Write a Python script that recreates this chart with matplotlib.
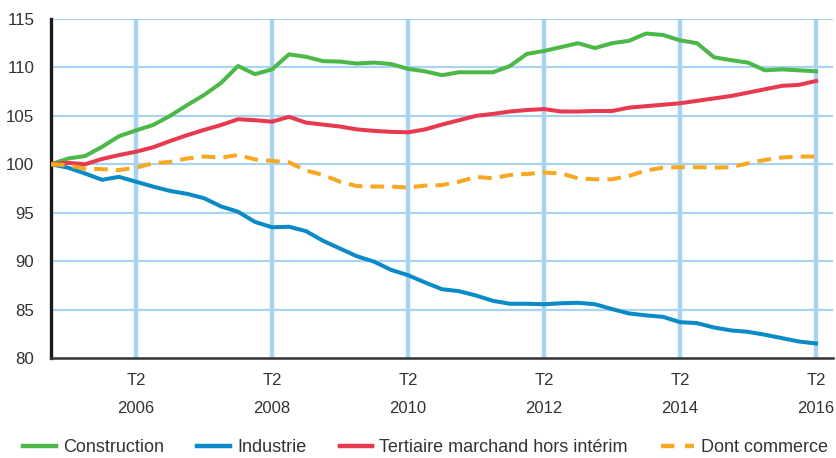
import matplotlib
matplotlib.use("Agg")
import matplotlib.pyplot as plt
from matplotlib import font_manager
from matplotlib.lines import Line2D

names = {f.name for f in font_manager.fontManager.ttflist}
FONT = "Liberation Sans Narrow" if "Liberation Sans Narrow" in names else "Liberation Sans"
plt.rcParams["font.family"] = [FONT, "DejaVu Sans"]

# Quarterly index, 2005 T1 .. 2016 T2 (base 100 = 2005 T1)
construction = [100.0, 100.6, 100.85, 101.8, 102.9, 103.5, 104.05, 105.0, 106.1, 107.15,
                108.4, 110.15, 109.3, 109.8, 111.35, 111.1, 110.65, 110.6, 110.4, 110.5,
                110.35, 109.85, 109.6, 109.2, 109.5, 109.5, 109.5, 110.15, 111.4, 111.7,
                112.1, 112.5, 112.0, 112.5, 112.75, 113.5, 113.35, 112.8, 112.5, 111.05,
                110.75, 110.5, 109.7, 109.8, 109.7, 109.6]
industrie = [100.0, 99.65, 99.05, 98.4, 98.7, 98.2, 97.7, 97.25, 96.95, 96.5,
             95.65, 95.1, 94.05, 93.5, 93.55, 93.1, 92.1, 91.3, 90.5, 89.95,
             89.1, 88.55, 87.8, 87.1, 86.9, 86.45, 85.9, 85.6, 85.6, 85.55,
             85.65, 85.7, 85.55, 85.05, 84.6, 84.4, 84.25, 83.7, 83.6, 83.15,
             82.85, 82.7, 82.4, 82.05, 81.7, 81.5]
tertiaire = [100.0, 100.15, 100.0, 100.55, 100.95, 101.3, 101.75, 102.4, 103.0, 103.55,
             104.05, 104.65, 104.55, 104.4, 104.9, 104.3, 104.1, 103.9, 103.6, 103.45,
             103.35, 103.3, 103.6, 104.1, 104.55, 105.0, 105.2, 105.45, 105.6, 105.7,
             105.45, 105.45, 105.5, 105.5, 105.85, 106.0, 106.15, 106.3, 106.55, 106.8,
             107.05, 107.4, 107.75, 108.1, 108.2, 108.6]
commerce = [100.0, 99.9, 99.55, 99.5, 99.4, 99.65, 100.1, 100.25, 100.6, 100.8,
            100.7, 100.95, 100.5, 100.35, 100.2, 99.35, 98.9, 98.2, 97.75, 97.7,
            97.7, 97.6, 97.8, 97.85, 98.2, 98.7, 98.55, 98.9, 99.0, 99.15,
            99.05, 98.55, 98.45, 98.45, 98.8, 99.35, 99.65, 99.7, 99.7, 99.65,
            99.7, 100.1, 100.45, 100.7, 100.8, 100.8]

series_names = ["Construction", "Industrie", "Tertiaire marchand hors intérim", "Dont commerce"]
tick_years = ["2006", "2008", "2010", "2012", "2014", "2016"]
tick_quarter = "T2"
y_ticks = [80, 85, 90, 95, 100, 105, 110, 115]

GREEN = "#4cb848"
BLUE = "#0a8ac6"
RED = "#e8394f"
ORANGE = "#f7a823"
GRID = "#a9d4f1"
TXT = "#333333"

W, H = 836, 458
fig = plt.figure(figsize=(W / 100, H / 100), dpi=100)
ax = fig.add_axes([51 / W, 1 - 358 / H, (833 - 51) / W, (358 - 19) / H])

x = list(range(len(construction)))
tick_pos = [5 + 8 * k for k in range(len(tick_years))]

for yv in y_ticks[1:]:
    ax.axhline(yv, color=GRID, lw=1.6, zorder=1)
for xp in tick_pos:
    ax.axvline(xp, color=GRID, lw=3.2, zorder=1)

lw = 2.9
ax.plot(x, construction, color=GREEN, lw=lw, zorder=3, solid_joinstyle="round")
ax.plot(x, industrie, color=BLUE, lw=lw, zorder=3, solid_joinstyle="round")
ax.plot(x, tertiaire, color=RED, lw=lw, zorder=3, solid_joinstyle="round")
ax.plot(x, commerce, color=ORANGE, lw=lw, ls=(0, (3.4, 2.0)), zorder=3)

ax.set_xlim(0, 46)
ax.set_ylim(80, 115)
ax.set_yticks(y_ticks)
ax.set_yticklabels([str(v) for v in y_ticks], fontsize=12.2, color=TXT)
ax.set_xticks(tick_pos)
ax.set_xticklabels([f"{tick_quarter}\n{yr}" for yr in tick_years], fontsize=12,
                   color=TXT, linespacing=2.05)
ax.tick_params(axis="both", length=0)
ax.tick_params(axis="y", pad=12)
ax.tick_params(axis="x", pad=11)

for s in ["top", "right"]:
    ax.spines[s].set_visible(False)
ax.spines["left"].set_color("#1a1a1a")
ax.spines["left"].set_linewidth(2.4)
ax.spines["bottom"].set_color("#333333")
ax.spines["bottom"].set_linewidth(1.8)
ax.set_facecolor("white")

handles = [
    Line2D([], [], color=GREEN, lw=3.2),
    Line2D([], [], color=BLUE, lw=3.2),
    Line2D([], [], color=RED, lw=3.2),
    Line2D([], [], color=ORANGE, lw=3.2, ls=(0, (3.0, 2.4))),
]
fs = 13
fig.legend(handles, series_names, loc="center left", bbox_to_anchor=(16 / W, 1 - 448 / H),
           ncol=4, frameon=False, fontsize=fs, handlelength=1.8, handletextpad=0.4,
           columnspacing=1.85, labelcolor=TXT, borderaxespad=0)

fig.savefig("out.png", dpi=100, facecolor="white")
